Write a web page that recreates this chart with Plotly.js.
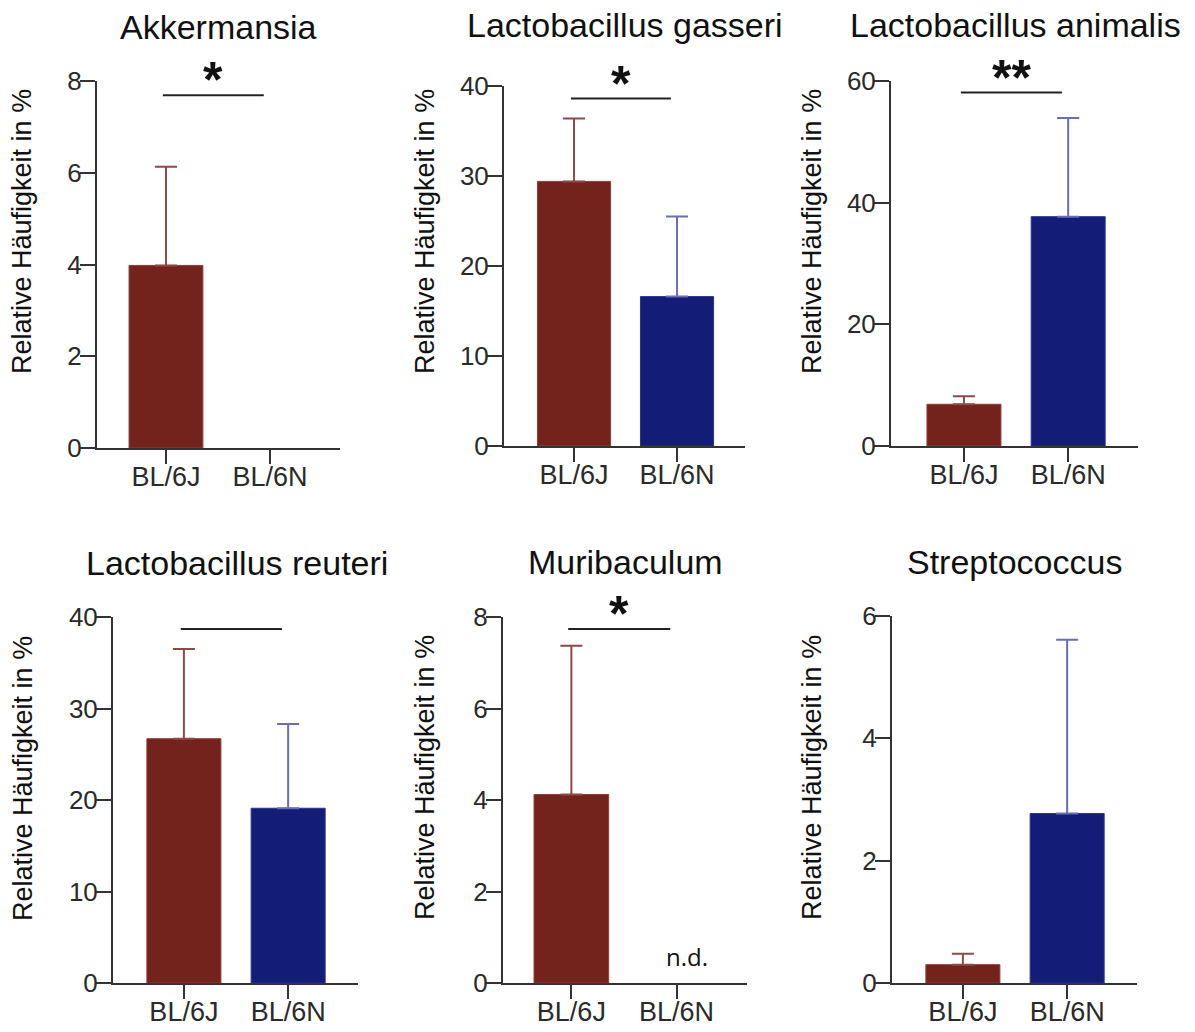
<!DOCTYPE html>
<html>
<head>
<meta charset="utf-8">
<script src="https://cdn.plot.ly/plotly-3.0.1.min.js"></script>
<style>html,body{margin:0;padding:0;background:#fff;}#chart{width:1195px;height:1032px;}</style>
</head>
<body>
<div id="chart"></div>
<script>
// ---- data ----
const panelTitles = ['Akkermansia','Lactobacillus gasseri','Lactobacillus animalis','Lactobacillus reuteri','Muribaculum','Streptococcus'];
const groups = ['BL/6J','BL/6N'];
const meanJ = [3.98, 29.4, 6.86, 26.7, 4.12, 0.30];
const errJ  = [2.15, 7.0, 1.32, 9.8, 3.25, 0.18];
const meanN = [0, 16.6, 37.7, 19.1, 0, 2.77];
const errN  = [null, 8.9, 16.2, 9.2, null, 2.84];
const yMax  = [8, 40, 60, 40, 8, 6];
const yStep = [2, 10, 20, 10, 2, 2];
const sigLevel = [7.69, 38.6, 58.1, 38.7, 7.74, null];
const sigLabel = ['*', '*', '**', '', '*', ''];
const noteN = ['', '', '', '', 'n.d.', ''];
const yTitle = 'Relative Häufigkeit in %';

// ---- layout geometry (pixels) ----
const W = 1195, H = 1032;
const boxes = [ // [xLeft, xRight, yTop, yBottom]
  [97, 340, 81, 448],
  [504, 745, 86, 446],
  [891, 1138, 81, 446],
  [113, 358, 617, 983],
  [503, 747, 617, 983],
  [892, 1137, 616, 983]
];
const xRanges = [[-0.663,1.673],[-0.68,1.66],[-0.70,1.67],[-0.68,1.67],[-0.65,1.67],[-0.68,1.67]];
const titlePos = [[218,27],[625,25],[1015,25],[237,563],[625,562],[1014,562]];
const yTitlePos = [[22,232],[425,232],[812,232],[23,779],[425,778],[812,778]];

const colJ = '#74231c', colJline = '#8e3e39', colJerr = '#8f4a47';
const colN = '#131c77', colNline = '#2b3390', colNerr = '#6a6fb2';
const FONT = 'Liberation Sans, Arial, Helvetica, sans-serif';

const traces = [];
const layout = {
  width: W, height: H,
  margin: {l:0, r:0, t:0, b:0},
  paper_bgcolor: '#fff', plot_bgcolor: '#fff',
  showlegend: false,
  bargap: 0,
  shapes: [],
  annotations: []
};

for (let i = 0; i < 6; i++) {
  const n = i + 1;
  const xa = 'x' + (n === 1 ? '' : n), ya = 'y' + (n === 1 ? '' : n);
  const xk = 'xaxis' + (n === 1 ? '' : n), yk = 'yaxis' + (n === 1 ? '' : n);
  const b = boxes[i];
  traces.push({
    type: 'bar', x: [groups[0]], y: [meanJ[i]], xaxis: xa, yaxis: ya, width: 0.71,
    marker: {color: colJ, line: {color: colJline, width: 1}},
    error_y: {type: 'data', symmetric: false, array: [errJ[i]], arrayminus: [0], color: colJerr, thickness: 2, width: 11},
    hoverinfo: 'skip'
  });
  traces.push({
    type: 'bar', x: [groups[1]], y: [meanN[i]], xaxis: xa, yaxis: ya, width: 0.71,
    marker: {color: colN, line: {color: meanN[i] > 0 ? colNline : 'rgba(0,0,0,0)', width: 1}},
    error_y: {type: 'data', symmetric: false, array: [errN[i]], arrayminus: [0], color: colNerr, thickness: 2, width: 11, visible: errN[i] !== null},
    hoverinfo: 'skip'
  });
  layout[xk] = {
    domain: [b[0]/W, b[1]/W], anchor: ya,
    type: 'category', categoryorder: 'array', categoryarray: groups,
    range: xRanges[i], fixedrange: true,
    showline: true, linecolor: '#333', linewidth: 2,
    ticks: 'outside', ticklen: 14, tickwidth: 2, tickcolor: '#333',
    ticklabelstandoff: -10,
    showgrid: false, zeroline: false,
    tickfont: {family: FONT, size: 27, color: '#2a2a2a'}
  };
  layout[yk] = {
    domain: [1 - b[3]/H, 1 - b[2]/H], anchor: xa,
    range: [0, yMax[i]], dtick: yStep[i], tick0: 0, fixedrange: true,
    showline: true, linecolor: '#333', linewidth: 2,
    ticks: 'outside', ticklen: 15, tickwidth: 2, tickcolor: '#333',
    ticklabelstandoff: -7,
    showgrid: false, zeroline: false,
    tickfont: {family: FONT, size: 26, color: '#2a2a2a'}
  };
  // panel title
  layout.annotations.push({
    xref: 'paper', yref: 'paper', x: titlePos[i][0]/W, y: 1 - titlePos[i][1]/H,
    xanchor: 'center', yanchor: 'middle', showarrow: false,
    text: panelTitles[i], font: {family: FONT, size: 34, color: '#111'}
  });
  // y-axis title
  layout.annotations.push({
    xref: 'paper', yref: 'paper', x: yTitlePos[i][0]/W, y: 1 - yTitlePos[i][1]/H,
    xanchor: 'center', yanchor: 'middle', showarrow: false, textangle: -90,
    text: yTitle, font: {family: FONT, size: 27, color: '#111'}
  });
  // significance bracket
  if (sigLevel[i] !== null) {
    layout.shapes.push({
      type: 'line', xref: xa, yref: ya, x0: -0.03, x1: 0.94, y0: sigLevel[i], y1: sigLevel[i],
      line: {color: '#222', width: 2}
    });
    if (sigLabel[i]) {
      layout.annotations.push({
        xref: xa, yref: ya, x: 0.455, y: sigLevel[i], xanchor: 'center', yanchor: 'middle',
        yshift: 15, showarrow: false, text: '<b>' + sigLabel[i] + '</b>',
        font: {family: FONT, size: 50, color: '#111'}
      });
    }
  }
  if (noteN[i]) {
    layout.annotations.push({
      xref: xa, yref: ya, x: 1, y: 0, xanchor: 'center', yanchor: 'bottom',
      xshift: 10, yshift: 8, showarrow: false, text: noteN[i],
      font: {family: 'Open Sans, Noto Sans, sans-serif', size: 24, color: '#111'}
    });
  }
}

Plotly.newPlot('chart', traces, layout, {displayModeBar: false, staticPlot: true});
</script>
</body>
</html>
